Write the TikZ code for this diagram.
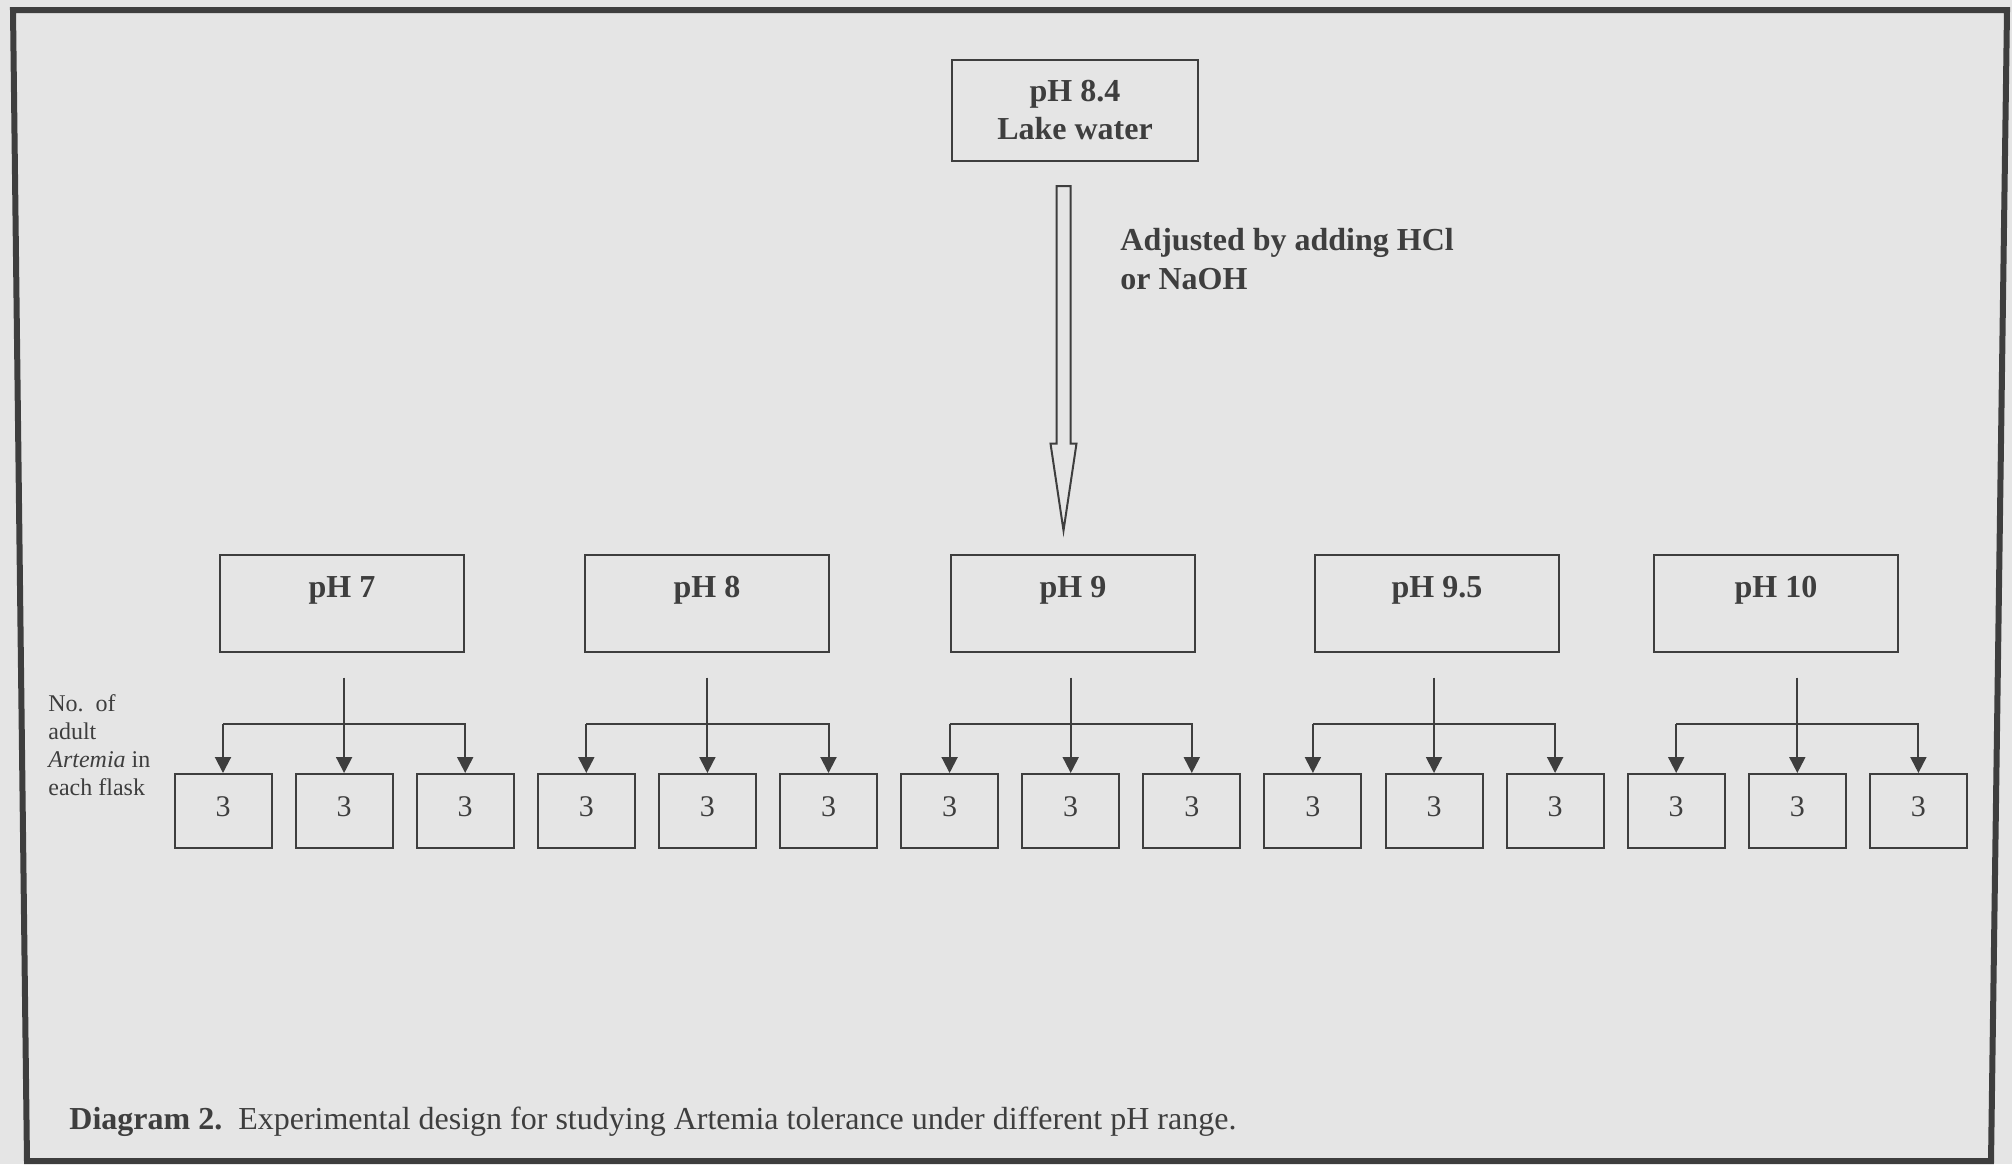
\documentclass[tikz,border=0pt]{standalone}
\usepackage{fontspec}
\setmainfont{Liberation Serif}
\usetikzlibrary{arrows.meta,calc}
\definecolor{ink}{RGB}{62,62,62}
\definecolor{paper}{RGB}{229,229,229}

\begin{document}
\begin{tikzpicture}[x=0.5pt,y=-0.5pt,
  every node/.style={text=ink},
  box/.style={draw=ink, line width=1pt},
  phbox/.style={box, minimum width=122pt, inner sep=0pt, text height=21.5pt, text depth=27pt, font=\fontsize{16}{19}\selectfont\bfseries},
  flask/.style={box, minimum width=48.5pt, minimum height=37pt, inner sep=0pt, text height=10pt, text depth=5pt, font=\fontsize{15}{17}\selectfont},
  tip/.style={draw=ink, line width=1pt, -{Triangle[length=8pt,width=8pt]}}]
\useasboundingbox (0,0) rectangle (2012,1164);
\fill[paper] (0,0) rectangle (2012,1164);
\draw[ink, line width=3pt] (13,10) -- (2007,10) -- (1991,1161) -- (27,1161) -- cycle;

\node[box, minimum width=123pt, minimum height=50.5pt, align=center, font=\fontsize{16}{19}\selectfont\bfseries] (top) at (1075,110.5) {pH 8.4\\Lake water};

\node[phbox] (p7) at (342,603) {pH 7};
\node[phbox] (p8) at (707,603) {pH 8};
\node[phbox] (p9) at (1073,603) {pH 9};
\node[phbox] (p95) at (1437,603) {pH 9.5};
\node[phbox] (p10) at (1776,603) {pH 10};

\foreach \i in {1,...,15}
  \node[flask] (f\i) at ({223+121.1*(\i-1)},811) {3};

\foreach \p/\l/\m/\r in {p7/1/2/3,p8/4/5/6,p9/7/8/9,p95/10/11/12,p10/13/14/15} {
  \draw[tip] ($(f\m.north |- \p.south)+(0,25)$) -- (f\m.north);
  \draw[tip] ($(f\l.north)+(0,-49)$) -| (f\r.north);
  \draw[tip] ($(f\l.north)+(0,-49)$) -- (f\l.north);
}

\coordinate (a0) at ($(top.south)+(-11.5,24)$);
\coordinate (a1) at ($(a0 |- p9.north)+(0,-23)$);
\draw[box] ($(a0)+(-7,0)$) -- ($(a0)+(7,0)$) -- ($(a1)+(7,-87)$) -- ($(a1)+(13,-87)$) -- (a1)
  -- ($(a1)+(-13,-87)$) -- ($(a1)+(-7,-87)$) -- cycle;

\node[anchor=north west, inner sep=0pt, align=left, font=\fontsize{16}{19.5}\selectfont\bfseries] (adj) at (1120,228) {Adjusted by adding HCl\\or NaOH};

\node[anchor=north west, inner sep=0pt, align=left, font=\fontsize{12}{14}\selectfont] (num) at (48,694) {No.\ \ of\\adult\\\textit{Artemia} in\\each flask};

\node[anchor=base west, inner sep=0pt, font=\fontsize{16}{19}\selectfont] (cap) at (69,1129) {\textbf{Diagram 2.}\ \ Experimental design for studying Artemia tolerance under different pH range.};
\end{tikzpicture}
\end{document}
